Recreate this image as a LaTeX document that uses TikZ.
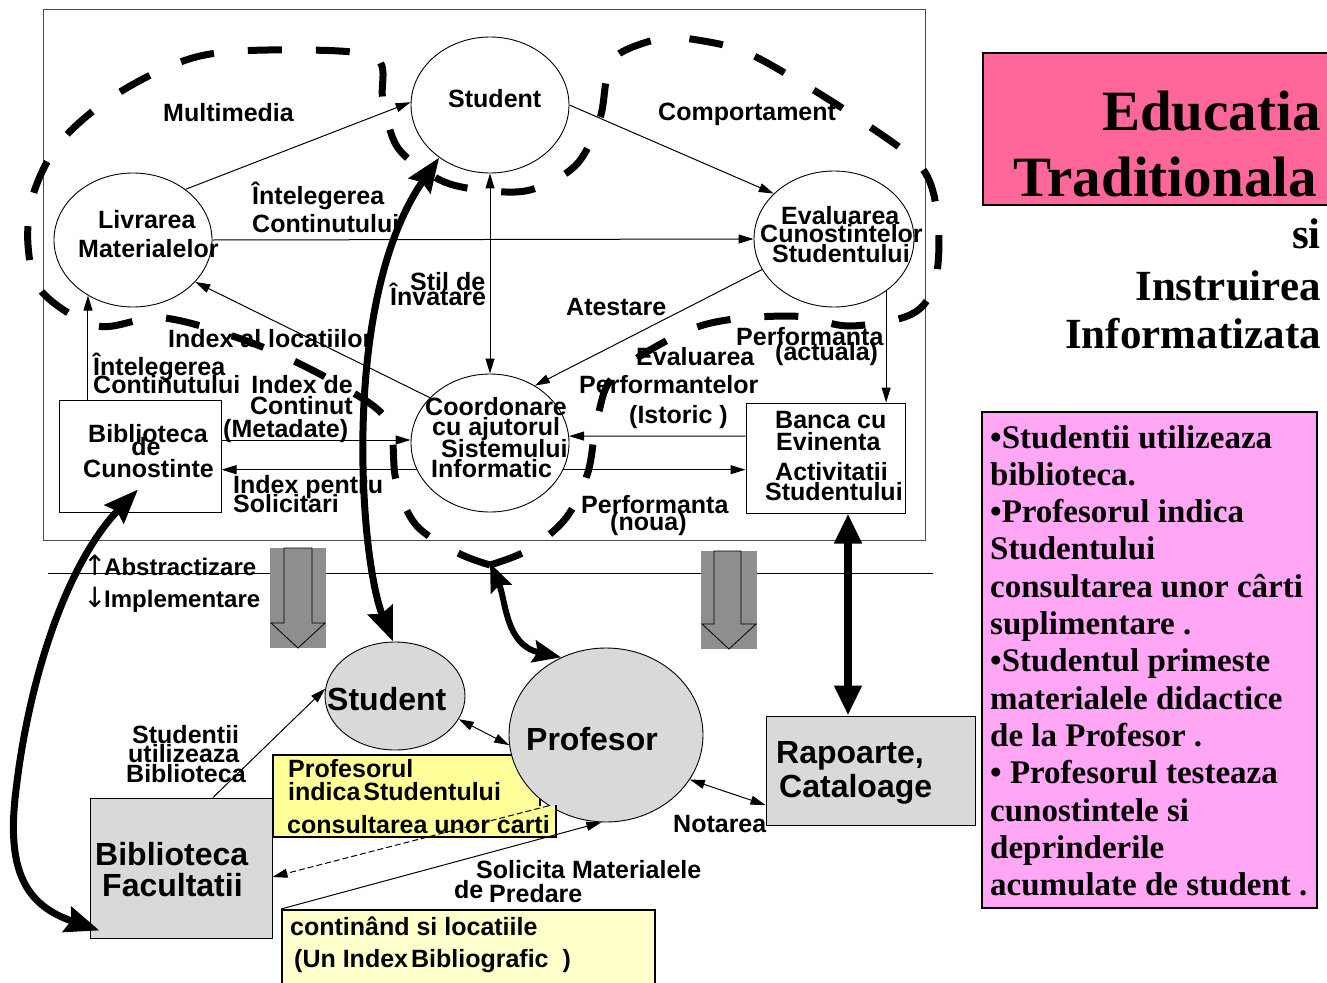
\documentclass[tikz,border=0pt]{standalone}
\usepackage{fontspec}
\usetikzlibrary{arrows.meta,shapes.geometric,calc}
\newfontfamily\arialf{Liberation Sans}
\newfontfamily\tnrf{Liberation Serif}
\newfontfamily\djf{DejaVu Sans}
\newcommand\fa{\arialf\bfseries\fontsize{25}{25}\selectfont}
\newcommand\fb{\arialf\bfseries\fontsize{32}{32}\selectfont}
\newcommand\farr{\djf\mdseries\fontsize{28}{28}\selectfont}
\definecolor{pinkA}{HTML}{FF6699}
\definecolor{magA}{HTML}{FFA6F5}
\definecolor{yelA}{HTML}{FFFF99}
\definecolor{yelB}{HTML}{FFFFCC}
\definecolor{grayA}{HTML}{D9D9D9}
\definecolor{grayB}{HTML}{8E8E8E}
\tikzset{
  lab/.style={font=\fa, inner sep=0pt, anchor=base west},
  labR/.style={lab, anchor=base east},
  labC/.style={lab, anchor=base},
  big/.style={font=\fb, inner sep=0pt, anchor=base west},
  rtA/.style={font=\tnrf\bfseries\fontsize{57}{57}\selectfont, inner sep=0pt, anchor=base east},
  rtB/.style={font=\tnrf\bfseries\fontsize{43}{43}\selectfont, inner sep=0pt, anchor=base east},
  mag/.style={font=\tnrf\bfseries\fontsize{33}{33}\selectfont, inner sep=0pt, anchor=base west},
  ell/.style={draw, ellipse, line width=0.9pt, inner sep=0pt},
  box/.style={draw, rectangle, line width=1pt, inner sep=0pt},
  ln/.style={line width=1pt, -{Triangle[length=15pt,width=9pt]}},
  lnb/.style={line width=1pt, {Triangle[length=15pt,width=9pt]}-{Triangle[length=15pt,width=9pt]}},
  bigdash/.style={line width=7pt, dash pattern=on 34pt off 34pt},
  fatA/.style={line width=7pt, {Stealth[length=34pt,width=26pt,inset=4pt]}-{Stealth[length=34pt,width=26pt,inset=4pt]}},
  fatC/.style={line width=6pt, {Stealth[length=28pt,width=22pt,inset=4pt]}-{Stealth[length=28pt,width=22pt,inset=4pt]}},
  fatD/.style={line width=8pt, {Triangle[length=30pt,width=26pt]}-{Triangle[length=30pt,width=26pt]}},
}
\begin{document}
\begin{tikzpicture}[x=1pt,y=-1pt]
\useasboundingbox (0,0) rectangle (1327,982);

% frame and separation line
\draw[line width=1pt, black!70] (43,10) rectangle (925,540);
\draw[line width=0.8pt] (48,573) -- (933,573);

% gray block arrows
\fill[grayB] (270,548) rectangle (326,648);
\draw[line width=0.8pt] (284,548) -- (284,623) -- (271,623) -- (298,648) -- (325,623) -- (312,623) -- (312,548) -- cycle;
\fill[grayB] (701,551) rectangle (757,649);
\draw[line width=0.8pt] (714,551) -- (714,624) -- (702,624) -- (729,649) -- (756,624) -- (741,624) -- (741,551) -- cycle;

% top nodes
\node[ell, minimum width=158pt, minimum height=136pt] (stuT) at (490,105) {};
\node[ell, minimum width=158pt, minimum height=134pt] (liv) at (133,240) {};
\node[ell, minimum width=160pt, minimum height=136pt] (eval) at (834,239) {};
\node[ell, minimum width=158pt, minimum height=138pt] (coord) at (490,443) {};
\node[box, minimum width=162pt, minimum height=112pt] (bibC) at (140,456) {};
\node[box, minimum width=159pt, minimum height=110pt] (banca) at (825.5,458) {};

% bottom nodes
\node[box, fill=yelA, draw=black, line width=2pt, minimum width=267pt, minimum height=82pt] (y1) at (406.5,796) {};
\node[ell, fill=grayA, minimum width=140pt, minimum height=108pt] (stuB) at (395,696) {};
\node[ell, fill=grayA, minimum width=194pt, minimum height=174pt] (prof) at (606,735) {};
\fill[yelA] (500,806) rectangle (556,837);
\draw[line width=2pt] (556,805) -- (556,837) -- (500,837);
\node[box, fill=grayA, minimum width=209pt, minimum height=109pt] (rap) at (870.5,770.5) {};
\node[box, fill=grayA, minimum width=182pt, minimum height=140pt] (bibF) at (181,868) {};
\node[box, fill=yelB, draw=black, line width=2pt, minimum width=373pt, minimum height=90pt] (y2) at (468.5,955) {};

% right side boxes
\node[draw, fill=pinkA, line width=1.5pt, minimum width=360pt, minimum height=152pt, inner sep=0pt] (pinkbox) at (1163,129) {};
\node[draw, fill=magA, line width=1.5pt, minimum width=335pt, minimum height=496pt, inner sep=0pt] (magbox) at (1149.5,660) {};

% thin connectors, top
\draw[ln] (liv.44) -- (stuT.178);
\draw[ln] (stuT.0) -- (eval.143);
\draw[ln] (liv.east) -- (eval.west);
\draw[lnb] (stuT.south) -- (coord.north);
\draw[ln] (eval.203) -- (coord.52);
\draw[ln] (coord.143) -- (liv.326);
\draw[ln] (liv.231 |- bibC.north) -- (liv.231);
\coordinate (b8) at ([yshift=16pt]bibC.east);
\draw[ln] (b8) -- (b8 -| coord.west);
\draw[ln] (coord.200) -- (coord.200 -| bibC.east);
\coordinate (b10) at ([yshift=22pt]banca.west);
\draw[ln] (b10) -- (coord.5);
\draw[ln] (coord.340) -- (coord.340 -| banca.west);
\draw[ln] (eval.315) -- (eval.315 |- banca.north);

% thin connectors, bottom
\draw[ln] ([xshift=32pt]bibF.north) -- (stuB.174);
\draw[lnb] (stuB.340) -- (prof.186);
\draw[lnb] (prof.332) -- ([yshift=-34.5pt]rap.west);
\draw[ln, dash pattern=on 6pt off 3pt] (prof.231) -- ([yshift=-9pt]bibF.east);
\draw[ln] (y2.north west) -- (prof.267);

% labels, top area
\node[lab] (t1) at (163,121) {Multimedia};
\node[lab] (t2) at (448,107) {Student};
\node[lab] (t3) at (658,120) {Comportament};
\node[lab] (t4) at (98,228) {Livrarea};
\node[lab] (t5) at (78,257) {Materialelor};
\node[lab] (t6) at (252,204) {Întelegerea};
\node[lab] (t7) at (252,232) {Continutului};
\node[lab] (t8) at (781,224) {Evaluarea};
\node[lab] (t9) at (760,242) {Cunostintelor};
\node[lab] (t10) at (772,262) {Studentului};
\node[lab] (t11) at (410,290) {Stil de};
\node[lab] (t12) at (390,305) {Învatare};
\node[lab] (t13) at (566,315) {Atestare};
\node[lab] (t14) at (168,347) {Index al locatiilor};
\node[lab] (t15) at (93,375) {Întelegerea};
\node[lab] (t16) at (93,393) {Continutului};
\node[labR] (t17) at (353,393) {Index de};
\node[labR] (t18) at (353,414) {Continut};
\node[lab] (t19) at (223,437) {(Metadate)};
\node[lab] (t20) at (233,493) {Index pentru};
\node[lab] (t21) at (233,512) {Solicitari};
\node[lab] (t22) at (88,442) {Biblioteca};
\node[labC] (t23) at (146,455) {de};
\node[lab] (t24) at (83,477) {Cunostinte};
\node[lab] (t25) at (425,415) {Coordonare};
\node[lab] (t26) at (432,435) {cu ajutorul};
\node[lab] (t27) at (441,457) {Sistemului};
\node[lab] (t28) at (431,477) {Informatic};
\node[lab] (t29) at (736,345) {Performanta};
\node[lab] (t30) at (775,360) {(actuala)};
\node[lab] (t31) at (636,365) {Evaluarea};
\node[lab] (t32) at (579,393) {Performantelor};
\node[lab] (t33) at (629,423) {(Istoric )};
\node[lab] (t34) at (775,428) {Banca cu};
\node[lab] (t35) at (776,450) {Evinenta};
\node[lab] (t36) at (775,480) {Activitatii};
\node[lab] (t37) at (765,500) {Studentului};
\node[lab] (t38) at (581,513) {Performanta};
\node[lab] (t39) at (610,530) {(noua)};

% labels, bottom area
\node[lab, font=\arialf\bfseries\fontsize{24}{24}\selectfont] (t40) at (83,575) {\makebox[21pt][l]{\farr ↑}Abstractizare};
\node[lab, font=\arialf\bfseries\fontsize{24}{24}\selectfont] (t41) at (83,607) {\makebox[21pt][l]{\farr ↓}Implementare};
\node[big] (t42) at (327,710) {Student};
\node[big] (t43) at (526,750) {Profesor};
\node[lab] (t44) at (132,743) {Studentii};
\node[lab] (t45) at (128,762) {utilizeaza};
\node[lab] (t46) at (126,782) {Biblioteca};
\node[lab] (t47) at (288,777) {Profesorul};
\node[lab] (t48) at (288,800) {indica\hspace{3pt}Studentului};
\node[lab] (t49) at (287,833) {consultarea unor carti};
\node[big] (t50) at (95,865) {Biblioteca};
\node[big] (t51) at (102,896) {Facultatii};
\node[big] (t52) at (776,763) {Rapoarte,};
\node[big] (t53) at (779,797) {Cataloage};
\node[lab] (t54) at (673,832) {Notarea};
\node[lab] (t55) at (476,878) {Solicita Materialele};
\node[lab] (t56) at (454,898) {de};
\node[lab] (t57) at (489,902) {Predare};
\node[lab] (t58) at (290,935) {continând si locatiile};
\node[lab] (t59) at (294,967) {(Un Index\hspace{3pt}Bibliografic~~)};

% right side texts
\node[rtA] (r1) at (1321,130) {Educatia};
\node[rtA] (r2) at (1317,196) {Traditionala};
\node[rtB] (r3) at (1321,248) {si};
\node[rtB] (r4) at (1321,300) {Instruirea};
\node[rtB] (r5) at (1321,348) {Informatizata};
\foreach \t [count=\i from 0] in {{•Studentii utilizeaza},{biblioteca.},{•Profesorul indica},{Studentului},{consultarea unor cârti},{suplimentare .},{•Studentul primeste},{materialele didactice},{de la Profesor .},{• Profesorul testeaza},{cunostintele si},{deprinderile},{acumulate de student .}}
  \node[mag] (m\i) at (990,{448+37.3*\i}) {\t};

% big dashed boundary (two halves meeting at the cusp)
\coordinate (cusp) at (490,563);
\draw[bigdash] plot[smooth, tension=0.55] coordinates {(490,565) (528,550) (566,518) (588,472) (598,415) (618,372) (700,326) (790,316) (850,326) (912,314) (935,282) (938,222) (922,168) (860,120) (790,76) (735,48) (670,36)};
\draw[bigdash] plot[smooth, tension=0.55] coordinates {(490,565) (458,553) (416,525) (396,480) (388,422) (345,388) (260,346) (165,318) (98,326) (42,292) (28,245) (34,192) (62,140) (120,92) (200,56) (300,50) (376,58) (383,100) (398,148) (440,180) (482,190) (530,190) (576,165) (600,118) (614,58) (670,36)};

% thick arrows
\draw[fatA] (stuB.92) .. controls (360,560) and (340,300) .. (stuT.226);
\draw[fatA] ([xshift=10pt,yshift=8pt]bibF.south west) .. controls (25,905) and (6,870) .. (16,790) .. controls (30,670) and (70,560) .. ([xshift=-2pt,yshift=23pt]bibC.south);
\draw[fatC] (cusp) .. controls (506,600) and (505,645) .. (prof.120);
\draw[fatD] ([xshift=22.5pt]banca.south) -- ([xshift=22.5pt]banca.south |- rap.north);
\end{tikzpicture}
\end{document}
